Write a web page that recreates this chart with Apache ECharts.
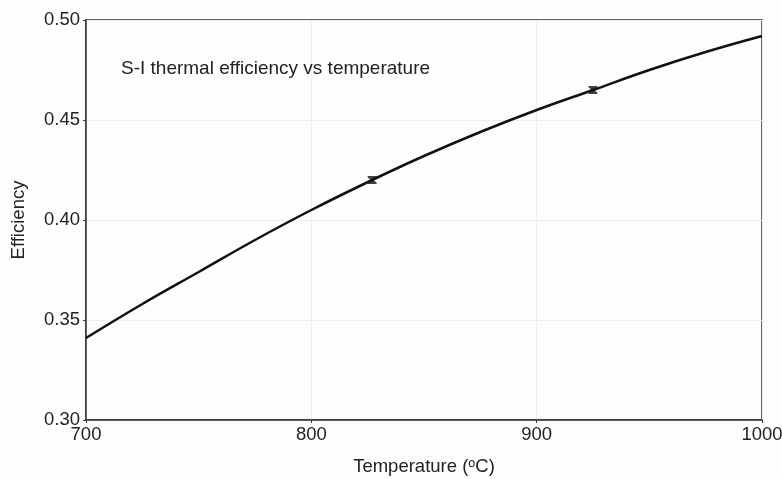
<!DOCTYPE html>
<html><head><meta charset="utf-8">
<script src="https://cdn.jsdelivr.net/npm/echarts@6/dist/echarts.min.js"></script>
<style>html,body{margin:0;padding:0;background:#fdfdfd}#c{width:782px;height:479px}</style>
</head><body><div id="c"></div>
<script>
const temps = [700, 725, 750, 775, 800, 827, 850, 875, 900, 925, 950, 975, 1000];
const effs  = [0.341, 0.358, 0.374, 0.390, 0.405, 0.420, 0.432, 0.444, 0.455, 0.465, 0.475, 0.484, 0.492];
const markTemps = [827, 925];
const markEffs  = [0.420, 0.465];
const xTicks = [700, 800, 900, 1000];
const yTicks = [0.30, 0.35, 0.40, 0.45, 0.50];

const chart = echarts.init(document.getElementById('c'));
const font = 'Liberation Sans, Arial, sans-serif';
chart.setOption({
  backgroundColor: '#fdfdfd',
  animation: false,
  grid: {left: 86, right: 20, top: 20, bottom: 59, show: true, borderColor: '#333', borderWidth: 1.5,
    containLabel: false, outerBoundsMode: 'none'},
  title: {text: 'S-I thermal efficiency vs temperature', left: 116, top: 54,
    textStyle: {fontFamily: font, fontSize: 19, fontWeight: 'normal', color: '#222'}},
  xAxis: {type: 'value', min: 700, max: 1000, interval: 100,
    name: 'Temperature (\u1d52C)', nameLocation: 'middle', nameGap: 37,
    nameTextStyle: {fontFamily: font, fontSize: 18.5, color: '#222'},
    axisLine: {show: true, lineStyle: {color: '#333', width: 1.5}},
    axisTick: {show: true, length: 3, lineStyle: {color: '#333'}},
    axisLabel: {fontFamily: font, fontSize: 18.5, color: '#222', margin: 5,
      formatter: v => xTicks.includes(v) ? String(v) : ''},
    splitLine: {show: true, lineStyle: {color: '#eeeeee', width: 1}}},
  yAxis: {type: 'value', min: 0.30, max: 0.50, interval: 0.05,
    name: 'Efficiency', nameLocation: 'middle', nameGap: 58, nameRotate: 90,
    nameTextStyle: {fontFamily: font, fontSize: 18.5, color: '#222'},
    axisLine: {show: true, lineStyle: {color: '#333', width: 1.5}},
    axisTick: {show: true, length: 3, lineStyle: {color: '#333'}},
    axisLabel: {fontFamily: font, fontSize: 18.5, color: '#222', margin: 6,
      formatter: v => yTicks.find(t => Math.abs(t - v) < 1e-9) !== undefined ? v.toFixed(2) : ''},
    splitLine: {show: true, lineStyle: {color: '#eeeeee', width: 1}}},
  series: [
    {type: 'line', data: temps.map((t, i) => [t, effs[i]]), smooth: 0.4, showSymbol: false,
      lineStyle: {color: '#111', width: 2.5}, z: 3},
    {type: 'scatter', data: markTemps.map((t, i) => [t, markEffs[i]]),
      symbol: 'path://M0,0 L10,0 L10,1.5 L6.5,5 L10,8.5 L10,10 L0,10 L0,8.5 L3.5,5 L0,1.5 Z',
      symbolSize: [9, 8], itemStyle: {color: '#111'}, z: 4}
  ]
});
</script></body></html>
